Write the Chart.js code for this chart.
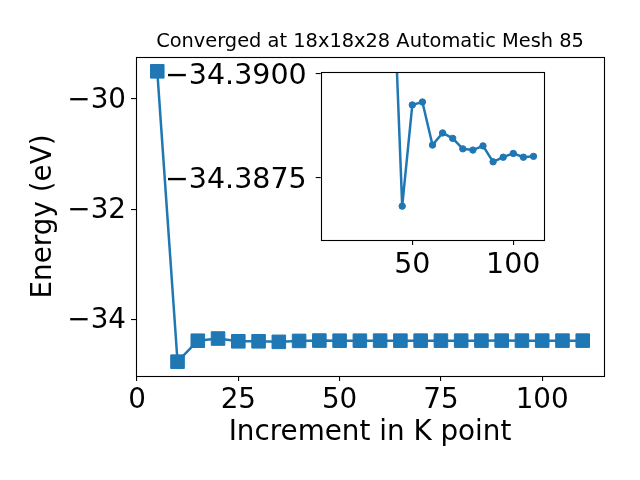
<!DOCTYPE html>
<html>
<head>
<meta charset="utf-8">
<script src="https://cdn.jsdelivr.net/npm/chart.js@4/dist/chart.umd.min.js"></script>
<style>
html,body{margin:0;padding:0;background:#fff;}
#wrap{position:relative;width:640px;height:480px;overflow:hidden;}
#wrap canvas{position:absolute;}
</style>
</head>
<body>
<div id="wrap">
<canvas id="main" width="640" height="480" style="left:0;top:0;width:640px;height:480px"></canvas>
<canvas id="inset" width="410" height="240" style="left:150px;top:60px;width:410px;height:240px"></canvas>
</div>
<script>
// ---- data ----
const kPoints = [5, 10, 15, 20, 25, 30, 35, 40, 45, 50, 55, 60, 65, 70, 75, 80, 85, 90, 95, 100, 105, 110];
const energy = [-29.50, -34.77, -34.39, -34.35, -34.40, -34.40, -34.41, -34.393,
  -34.38682, -34.38924, -34.38931, -34.38828, -34.38857, -34.38844, -34.38819,
  -34.38816, -34.38826, -34.38788, -34.38799, -34.38808, -34.38799, -34.38801];
const insetFromK = 25;
const mainXTicks = [0, 25, 50, 75, 100];
const mainYTicks = [-34, -32, -30];
const insetXTicks = [50, 100];
const insetYTicks = [-34.39, -34.3875];
const titleText = 'Converged at 18x18x28 Automatic Mesh 85';
const xTitle = 'Increment in K point';
const yTitle = 'Energy (eV)';

// ---- helpers ----
const FONT = "'DejaVu Sans', sans-serif";
const BLUE = '#1f77b4';
const fmt = (v, d) => (v < 0 ? '\u2212' : '') + Math.abs(v).toFixed(d);
const frame = (fill) => ({
  id: 'frame',
  beforeDatasetsDraw(chart) {
    if (!fill) return;
    const {ctx, chartArea: a} = chart;
    ctx.save(); ctx.fillStyle = '#fff';
    ctx.fillRect(a.left, a.top, a.right - a.left, a.bottom - a.top);
    ctx.restore();
  },
  afterDraw(chart) {
    const {ctx, chartArea: a} = chart;
    ctx.save(); ctx.strokeStyle = '#000'; ctx.lineWidth = 1.1;
    ctx.strokeRect(Math.round(a.left) + 0.5, Math.round(a.top) + 0.5,
      Math.round(a.right - a.left), Math.round(a.bottom - a.top));
    ctx.restore();
  }
});
Chart.defaults.color = '#000';
Chart.defaults.font.family = FONT;

const mainPts = kPoints.map((k, i) => ({x: k, y: energy[i]}));
const insetPts = kPoints.map((k, i) => ({x: k, y: energy[i]})).filter(p => p.x >= insetFromK);

const axisCommon = {
  grid: {display: true, drawOnChartArea: false, drawTicks: true, tickLength: 5, color: '#000', lineWidth: 1.1},
  border: {display: false}
};
const fixH = h => s => { s.height = h; s.paddingLeft = 0; s.paddingRight = 0; };
const fixW = w => s => { s.width = w; s.paddingTop = 0; s.paddingBottom = 0; };

new Chart(document.getElementById('main'), {
  type: 'line',
  data: {datasets: [{
    data: mainPts, borderColor: BLUE, borderWidth: 2.5, tension: 0,
    pointStyle: 'rect', pointRadius: 9.6, pointBorderWidth: 1,
    pointBackgroundColor: BLUE, pointBorderColor: BLUE
  }]},
  options: {
    responsive: false, animation: false, events: [],
    layout: {padding: {left: 0, right: 36, top: 0, bottom: 0}},
    plugins: {
      legend: {display: false}, tooltip: {enabled: false},
      title: {display: true, text: titleText, fullSize: false,
        font: {size: 19.4, family: FONT, weight: 'normal'}, color: '#000',
        padding: {top: 29.9, bottom: 3.8}}
    },
    scales: {
      x: Object.assign({}, axisCommon, {
        type: 'linear', min: -0.25, max: 115.25,
        afterBuildTicks: s => { s.ticks = mainXTicks.map(v => ({value: v})); },
        afterFit: fixH(104),
        ticks: {font: {size: 27.8}, padding: 3, maxRotation: 0, callback: v => fmt(v, 0)},
        title: {display: true, text: xTitle, font: {size: 27.8}, padding: {top: 0, bottom: 31}}
      }),
      y: Object.assign({}, axisCommon, {
        type: 'linear', min: -35.03, max: -29.24,
        afterBuildTicks: s => { s.ticks = mainYTicks.map(v => ({value: v})); },
        afterFit: fixW(136),
        ticks: {font: {size: 27.8}, padding: 5, labelOffset: 2, callback: v => fmt(v, 0)},
        title: {display: true, text: yTitle, font: {size: 27.8}, padding: {top: 27, bottom: 0}}
      })
    }
  },
  plugins: [frame(false)]
});

new Chart(document.getElementById('inset'), {
  type: 'line',
  data: {datasets: [{
    data: insetPts, borderColor: BLUE, borderWidth: 2.5, tension: 0,
    pointStyle: 'circle', pointRadius: 3.2, pointBorderWidth: 1,
    pointBackgroundColor: BLUE, pointBorderColor: BLUE
  }]},
  options: {
    responsive: false, animation: false, events: [],
    layout: {padding: {left: 0, right: 16, top: 12.3, bottom: 0}},
    plugins: {legend: {display: false}, tooltip: {enabled: false}, title: {display: false}},
    scales: {
      x: Object.assign({}, axisCommon, {
        type: 'linear', min: 4.65, max: 115.2,
        afterBuildTicks: s => { s.ticks = insetXTicks.map(v => ({value: v})); },
        afterFit: fixH(60),
        ticks: {font: {size: 28.5}, padding: 3, maxRotation: 0, callback: v => fmt(v, 0)}
      }),
      y: Object.assign({}, axisCommon, {
        type: 'linear', reverse: true, min: -34.39002, max: -34.38601,
        afterBuildTicks: s => { s.ticks = insetYTicks.map(v => ({value: v})); },
        afterFit: fixW(170.7),
        ticks: {font: {size: 28.5}, padding: 9, labelOffset: 3, callback: v => fmt(v, 4)}
      })
    }
  },
  plugins: [frame(true)]
});
</script>
</body>
</html>
